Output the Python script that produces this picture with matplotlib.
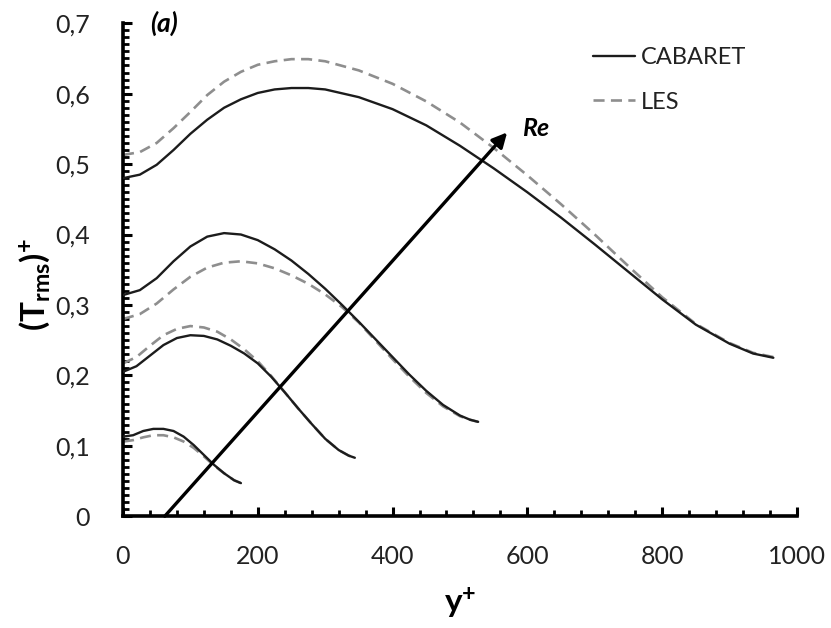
import matplotlib
matplotlib.use("Agg")
import matplotlib.pyplot as plt
from matplotlib.ticker import MultipleLocator, FuncFormatter

plt.rcParams["font.family"] = ["Lato", "DejaVu Sans"]
plt.rcParams["mathtext.fontset"] = "custom"
plt.rcParams["mathtext.rm"] = "Lato"
plt.rcParams["mathtext.bf"] = "Lato:bold"
plt.rcParams["mathtext.it"] = "Lato:italic"

# Temperature fluctuation profiles, four Reynolds numbers
yplus_re1 = [0, 15, 30, 45, 60, 75, 90, 105, 120, 135, 150, 165, 175]
cabaret_re1 = [0.113, 0.115, 0.121, 0.124, 0.124, 0.121, 0.113, 0.101, 0.087, 0.073,
               0.061, 0.051, 0.047]
les_re1 = [0.106, 0.108, 0.112, 0.115, 0.115, 0.112, 0.106, 0.097, 0.085, 0.072,
           0.061, 0.051, 0.047]

yplus_re2 = [0, 20, 40, 60, 80, 100, 120, 140, 160, 180, 200, 220, 240, 260, 280,
             300, 320, 335, 344]
cabaret_re2 = [0.205, 0.213, 0.228, 0.243, 0.253, 0.257, 0.256, 0.251, 0.242, 0.231,
               0.217, 0.198, 0.176, 0.153, 0.131, 0.110, 0.094, 0.086, 0.083]
les_re2 = [0.217, 0.226, 0.242, 0.257, 0.266, 0.270, 0.268, 0.262, 0.251, 0.237,
           0.220, 0.199, 0.176, 0.153, 0.131, 0.110, 0.094, 0.086, 0.083]

yplus_re3 = [0, 25, 50, 75, 100, 125, 150, 175, 200, 225, 250, 275, 300, 325, 350,
             375, 400, 425, 450, 475, 500, 515, 527]
cabaret_re3 = [0.314, 0.321, 0.338, 0.362, 0.383, 0.397, 0.402, 0.400, 0.392, 0.379,
               0.363, 0.344, 0.323, 0.300, 0.276, 0.251, 0.226, 0.201, 0.178, 0.158,
               0.143, 0.137, 0.134]
les_re3 = [0.280, 0.287, 0.302, 0.322, 0.340, 0.353, 0.360, 0.362, 0.359, 0.352,
           0.342, 0.330, 0.315, 0.297, 0.275, 0.249, 0.223, 0.198, 0.175, 0.156,
           0.142, 0.137, 0.134]

yplus_re4 = [0, 25, 50, 75, 100, 125, 150, 175, 200, 225, 250, 275, 300, 350, 400,
             450, 500, 550, 600, 650, 700, 750, 800, 850, 900, 935, 965]
cabaret_re4 = [0.480, 0.485, 0.499, 0.520, 0.543, 0.563, 0.580, 0.592, 0.601, 0.606,
               0.608, 0.608, 0.606, 0.595, 0.578, 0.555, 0.526, 0.494, 0.460, 0.424,
               0.386, 0.347, 0.308, 0.272, 0.245, 0.231, 0.225]
les_re4 = [0.513, 0.517, 0.530, 0.551, 0.574, 0.598, 0.617, 0.631, 0.641, 0.646,
           0.649, 0.649, 0.646, 0.633, 0.614, 0.589, 0.559, 0.523, 0.484, 0.443,
           0.400, 0.355, 0.311, 0.273, 0.246, 0.232, 0.226]

cases = [
    (yplus_re1, cabaret_re1, les_re1),
    (yplus_re2, cabaret_re2, les_re2),
    (yplus_re3, cabaret_re3, les_re3),
    (yplus_re4, cabaret_re4, les_re4),
]

# Direction of increasing Re
arrow_start = (62, 0.0)
arrow_end = (570, 0.545)

solid_color = "#1c1c1c"
dash_color = "#8e8e8e"

fig = plt.figure(figsize=(8.31, 6.28), dpi=100)
ax = fig.add_axes([0.148, 0.178, 0.811, 0.785])

for i, (yp, cab, les) in enumerate(cases):
    ax.plot(yp, cab, color=solid_color, lw=1.7, solid_capstyle="round",
            solid_joinstyle="round", label="CABARET" if i == 0 else None, zorder=3)
    ax.plot(yp, les, color=dash_color, lw=1.9, linestyle=(0, (4.2, 2.4)),
            label="LES" if i == 0 else None, zorder=2)

ax.annotate("", xy=arrow_end, xytext=arrow_start,
            arrowprops=dict(arrowstyle="-|>", lw=2.4, color="black",
                            mutation_scale=22, shrinkA=0, shrinkB=0),
            zorder=4, annotation_clip=False)
ax.text(592, 0.551, "Re", fontsize=18, fontweight="bold", fontstyle="italic",
        ha="left", va="center")

ax.text(0.04, 1.0, "(a)", transform=ax.transAxes, fontsize=19,
        fontweight="bold", fontstyle="italic", ha="left", va="center")

ax.set_xlim(0, 1000)
ax.set_ylim(0, 0.7)
ax.xaxis.set_major_locator(MultipleLocator(200))
ax.xaxis.set_minor_locator(MultipleLocator(40))
ax.yaxis.set_major_locator(MultipleLocator(0.1))
ax.yaxis.set_minor_locator(MultipleLocator(0.01))


def comma_fmt(v, pos):
    if abs(v) < 1e-9:
        return "0"
    return f"{v:.1f}".replace(".", ",")


ax.yaxis.set_major_formatter(FuncFormatter(comma_fmt))

for side in ("top", "right"):
    ax.spines[side].set_visible(False)
for side in ("left", "bottom"):
    ax.spines[side].set_linewidth(2.6)
    ax.spines[side].set_color("black")

ax.tick_params(axis="both", which="major", direction="in", length=6.5, width=2.2,
               labelsize=18, colors="black", labelcolor="#222222")
ax.tick_params(axis="both", which="minor", direction="in", length=4, width=2.0)
ax.tick_params(axis="y", which="major", pad=24)
ax.tick_params(axis="x", which="major", pad=21)

ax.set_xlabel(r"$\mathbf{y^{+}}$", fontsize=24, va="center")
ax.xaxis.set_label_coords(0.5, -0.176)
ax.set_ylabel(r"$\mathbf{(T_{rms})^{+}}$", fontsize=24, va="center")
ax.yaxis.set_label_coords(-0.131, 0.47)

leg = ax.legend(loc="upper left", bbox_to_anchor=(0.697, 0.952), frameon=False,
                fontsize=17, handlelength=1.8, handletextpad=0.25,
                labelspacing=1.0, borderpad=0, borderaxespad=0)
for t in leg.get_texts():
    t.set_color("#222222")

fig.savefig("out.png", dpi=100)
